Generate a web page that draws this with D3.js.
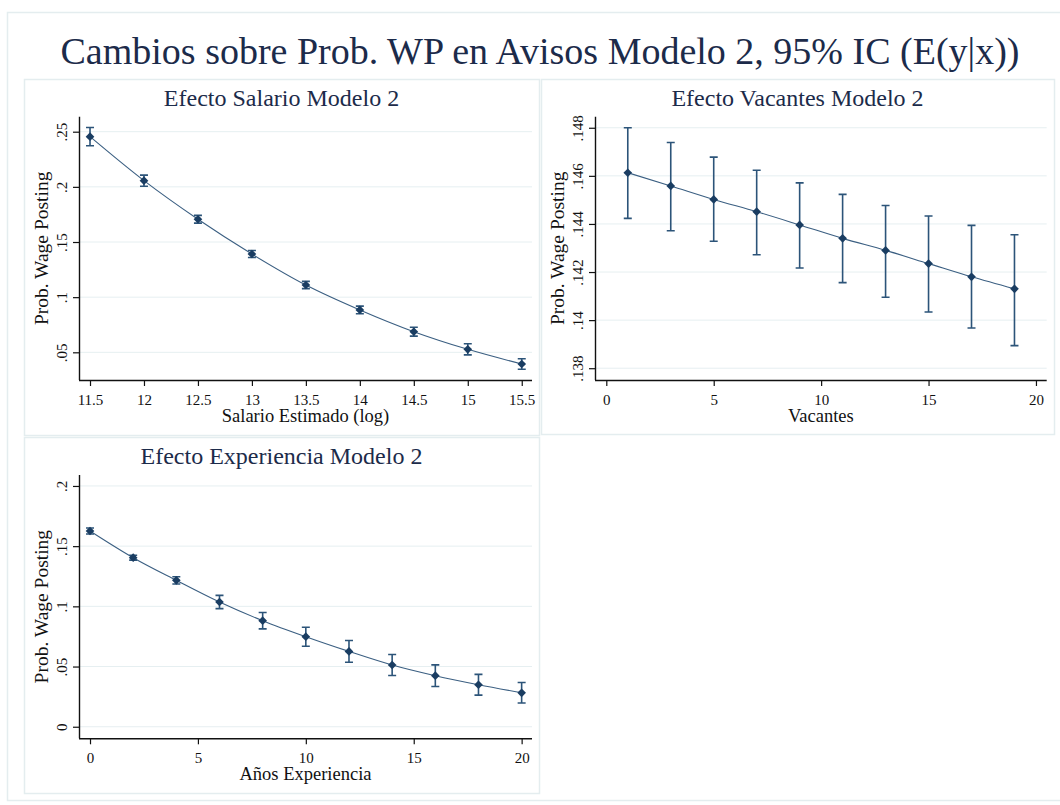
<!DOCTYPE html>
<meta charset="utf-8">
<style>
body { margin: 0; background: #fff; }
text { font-family: "Liberation Serif", "Times New Roman", serif; }
.grid line { stroke: #e6eff1; stroke-width: 1; }
.axis path, .axis line { stroke: #111; }
.axis text { fill: #111; font-size: 15px; }
</style>
<svg width="1060" height="805"></svg>
<script src="https://d3js.org/d3.v7.min.js"></script>
<script>

// --- data ---
var mainTitle = "Cambios sobre Prob. WP en Avisos Modelo 2, 95% IC (E(y|x))";

var salX  = [11.5, 12, 12.5, 13, 13.5, 14, 14.5, 15, 15.5];
var salY  = [0.2455, 0.2056, 0.1706, 0.1391, 0.1110, 0.0884, 0.0687, 0.0527, 0.0394];
var salLo = [0.2372, 0.2006, 0.1671, 0.1359, 0.1077, 0.0849, 0.0647, 0.0477, 0.0346];
var salHi = [0.2538, 0.2106, 0.1741, 0.1423, 0.1143, 0.0919, 0.0727, 0.0577, 0.0442];
var salXTicks = [11.5, 12, 12.5, 13, 13.5, 14, 14.5, 15, 15.5];
var salYTicks = [0.05, 0.1, 0.15, 0.2, 0.25];
var salYLabels = [".05", ".1", ".15", ".2", ".25"];

var vacX  = [1, 3, 5, 7, 9, 11, 13, 15, 17, 19];
var vacY  = [0.14613, 0.14558, 0.14502, 0.14451, 0.14396, 0.14340, 0.14290, 0.14235, 0.14180, 0.14130];
var vacLo = [0.14423, 0.14372, 0.14328, 0.14272, 0.14217, 0.14156, 0.14095, 0.14034, 0.13967, 0.13894];
var vacHi = [0.14800, 0.14739, 0.14678, 0.14623, 0.14571, 0.14523, 0.14477, 0.14433, 0.14394, 0.14355];
var vacXTicks = [0, 5, 10, 15, 20];
var vacYTicks = [0.138, 0.14, 0.142, 0.144, 0.146, 0.148];
var vacYLabels = [".138", ".14", ".142", ".144", ".146", ".148"];

var expX  = [0, 2, 4, 6, 8, 10, 12, 14, 16, 18, 20];
var expY  = [0.1626, 0.1404, 0.1216, 0.1036, 0.0881, 0.0748, 0.0626, 0.0513, 0.0424, 0.0349, 0.0282];
var expLo = [0.1601, 0.1384, 0.1186, 0.0981, 0.0813, 0.0669, 0.0536, 0.0426, 0.0334, 0.0263, 0.0197];
var expHi = [0.1651, 0.1424, 0.1246, 0.1091, 0.0949, 0.0827, 0.0716, 0.0600, 0.0514, 0.0435, 0.0367];
var expXTicks = [0, 5, 10, 15, 20];
var expYTicks = [0, 0.05, 0.1, 0.15, 0.2];
var expYLabels = ["0", ".05", ".1", ".15", ".2"];

var svg = d3.select("svg");

// outer frame
svg.append("rect")
    .attr("x", 7.5).attr("y", 12.5)
    .attr("width", 1060).attr("height", 788)
    .attr("fill", "none").attr("stroke", "#e4edef").attr("stroke-width", 1.5);

svg.append("text")
    .attr("x", 540).attr("y", 64)
    .attr("text-anchor", "middle")
    .style("font-size", "38px")
    .style("fill", "#1c2b4a")
    .text(mainTitle);

var panels = [
  { box: [24, 79, 539, 435], plot: [79, 116.7, 532, 380],
    title: "Efecto Salario Modelo 2", xTitle: "Salario Estimado (log)",
    x: salX, y: salY, lo: salLo, hi: salHi,
    xDom: [11.398, 15.595], yDom: [0.0249, 0.2636],
    xTicks: salXTicks, yTicks: salYTicks, yLabels: salYLabels },
  { box: [541, 79, 1054, 434], plot: [595, 116.7, 1046.7, 380],
    title: "Efecto Vacantes Modelo 2", xTitle: "Vacantes",
    x: vacX, y: vacY, lo: vacLo, hi: vacHi,
    xDom: [-0.526, 20.5], yDom: [0.13751, 0.14846],
    xTicks: vacXTicks, yTicks: vacYTicks, yLabels: vacYLabels },
  { box: [24, 437, 539, 793], plot: [79, 475, 532, 738.3],
    title: "Efecto Experiencia Modelo 2", xTitle: "Años Experiencia",
    x: expX, y: expY, lo: expLo, hi: expHi,
    xDom: [-0.51, 20.48], yDom: [-0.0096, 0.2091],
    xTicks: expXTicks, yTicks: expYTicks, yLabels: expYLabels }
];

panels.forEach(drawPanel);

function drawPanel(p) {
  var g = svg.append("g");
  var L = p.plot[0], T = p.plot[1], R = p.plot[2], B = p.plot[3];

  g.append("rect")
      .attr("x", p.box[0] + 0.5).attr("y", p.box[1] + 0.5)
      .attr("width", p.box[2] - p.box[0]).attr("height", p.box[3] - p.box[1])
      .attr("fill", "none").attr("stroke", "#e4edef").attr("stroke-width", 1.5);

  var x = d3.scaleLinear().domain(p.xDom).range([L, R]);
  var y = d3.scaleLinear().domain(p.yDom).range([B, T]);

  // gridlines
  g.append("g").attr("class", "grid")
    .selectAll("line")
    .data(p.yTicks)
    .enter().append("line")
      .attr("x1", L).attr("x2", R)
      .attr("y1", function(d) { return y(d); })
      .attr("y2", function(d) { return y(d); });

  // axes
  var yAxis = d3.axisLeft(y)
      .tickValues(p.yTicks)
      .tickSize(6)
      .tickFormat(function(d, i) { return p.yLabels[i]; });
  var ya = g.append("g").attr("class", "axis")
      .attr("transform", "translate(" + L + ",0)")
      .call(yAxis);
  ya.select(".domain").attr("d", "M0.5," + T + "V" + B).attr("stroke-width", 1.4);
  ya.selectAll(".tick line").attr("stroke-width", 1.2);
  ya.selectAll(".tick text")
      .attr("x", null).attr("dy", null)
      .attr("text-anchor", "middle")
      .attr("transform", "translate(-12,0) rotate(-90)");

  var xAxis = d3.axisBottom(x)
      .tickValues(p.xTicks)
      .tickSize(6)
      .tickFormat(function(d) { return String(d); });
  var xa = g.append("g").attr("class", "axis")
      .attr("transform", "translate(0," + B + ")")
      .call(xAxis);
  xa.select(".domain").attr("d", "M" + L + ",0.5H" + R).attr("stroke-width", 1.4);
  xa.selectAll(".tick line").attr("stroke-width", 1.2);
  xa.selectAll(".tick text").attr("dy", null).attr("y", 25);

  // titles
  g.append("text")
      .attr("x", (p.box[0] + p.box[2]) / 2).attr("y", p.box[1] + 27)
      .attr("text-anchor", "middle")
      .style("font-size", "24px")
      .style("fill", "#1c2b4a")
      .text(p.title);

  g.append("text")
      .attr("x", (L + R) / 2).attr("y", B + 42)
      .attr("text-anchor", "middle")
      .style("font-size", "18.5px")
      .style("fill", "#111")
      .text(p.xTitle);

  g.append("text")
      .attr("transform", "translate(" + (L - 31) + "," + ((T + B) / 2) + ") rotate(-90)")
      .attr("text-anchor", "middle")
      .style("font-size", "19.5px")
      .style("fill", "#111")
      .text("Prob. Wage Posting");

  var pts = p.x.map(function(v, i) {
    return { x: v, y: p.y[i], lo: p.lo[i], hi: p.hi[i] };
  });

  // connecting line
  g.append("path")
      .datum(pts)
      .attr("fill", "none")
      .attr("stroke", "#3b5f82")
      .attr("stroke-width", 1.1)
      .attr("d", d3.line()
          .x(function(d) { return x(d.x); })
          .y(function(d) { return y(d.y); })
          .curve(d3.curveMonotoneX));

  // error bars
  var eb = g.append("g")
      .attr("stroke", "#2c5479")
      .attr("stroke-width", 1.6)
      .attr("fill", "none");
  eb.selectAll("path")
    .data(pts)
    .enter().append("path")
      .attr("d", function(d) {
        var cx = x(d.x), y0 = y(d.lo), y1 = y(d.hi);
        return "M" + cx + "," + y0 + "V" + y1 +
               "M" + (cx - 4) + "," + y1 + "H" + (cx + 4) +
               "M" + (cx - 4) + "," + y0 + "H" + (cx + 4);
      });

  // diamond markers
  g.append("g")
    .selectAll("path")
    .data(pts)
    .enter().append("path")
      .attr("fill", "#1a3d62")
      .attr("d", d3.symbol().type(d3.symbolDiamond2).size(48))
      .attr("transform", function(d) {
        return "translate(" + x(d.x) + "," + y(d.y) + ")";
      });
}

</script>
